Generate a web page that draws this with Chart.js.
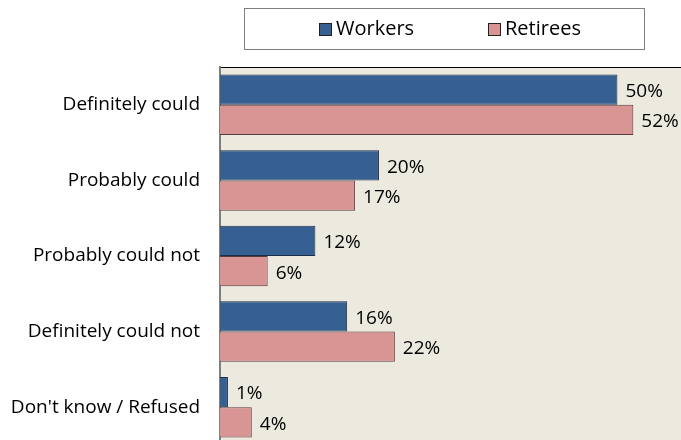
<!DOCTYPE html>
<html>
<head>
<meta charset="utf-8">
<script src="https://cdn.jsdelivr.net/npm/chart.js@4"></script>
<style>
    html, body { margin: 0; padding: 0; background: #fff; overflow: hidden; }
    canvas { display: block; }
</style>
</head>
<body>
<canvas id="graf" width="681" height="445"></canvas>
<script>
const kategorier = ['Definitely could', 'Probably could', 'Probably could not', 'Definitely could not', "Don't know / Refused"];
const arbeidere = [50, 20, 12, 16, 1];
const pensjonister = [52, 17, 6, 22, 4];
const serieNavn = ['Workers', 'Retirees'];

const skrift = '"Open Sans", Lato, sans-serif';

// Bakgrunn og ramme for plottet
const bakgrunnPlugin = {
    id: 'bakgrunn',
    beforeDraw(chart) {
        const { ctx, chartArea: a } = chart;
        ctx.save();
        ctx.fillStyle = '#ECE9DF';
        ctx.fillRect(a.left, a.top, a.right - a.left, a.bottom - a.top);
        ctx.strokeStyle = '#000';
        ctx.lineWidth = 1;
        ctx.beginPath();
        ctx.moveTo(a.left, a.top + 0.5);
        ctx.lineTo(a.right, a.top + 0.5);
        ctx.stroke();
        ctx.restore();
    }
};

// Verdier ved enden av stolpene
const verdiPlugin = {
    id: 'verdier',
    afterDatasetsDraw(chart) {
        const { ctx } = chart;
        ctx.save();
        ctx.font = '19px ' + skrift;
        ctx.fillStyle = '#000';
        ctx.textAlign = 'left';
        ctx.textBaseline = 'middle';
        chart.data.datasets.forEach((ds, i) => {
            chart.getDatasetMeta(i).data.forEach((bar, j) => {
                ctx.fillText(ds.data[j] + '%', bar.x + 8, bar.y + 2);
            });
        });
        ctx.restore();
    }
};

// Egen tegnforklaring med ramme
const forklaringPlugin = {
    id: 'forklaring',
    afterDraw(chart) {
        const { ctx } = chart;
        ctx.save();
        ctx.strokeStyle = '#7f7f7f';
        ctx.lineWidth = 1;
        ctx.strokeRect(244.5, 8.5, 400, 41);
        const posX = [319, 488];
        ctx.font = '20px ' + skrift;
        ctx.textBaseline = 'middle';
        chart.data.datasets.forEach((ds, i) => {
            ctx.fillStyle = ds.backgroundColor;
            ctx.fillRect(posX[i], 23, 12, 12);
            ctx.strokeStyle = '#222';
            ctx.strokeRect(posX[i] + 0.5, 23.5, 12, 12);
            ctx.fillStyle = '#000';
            ctx.fillText(ds.label, posX[i] + 17, 29);
        });
        ctx.restore();
    }
};

new Chart(document.getElementById('graf'), {
    type: 'bar',
    data: {
        labels: kategorier,
        datasets: [{
            label: serieNavn[0],
            data: arbeidere,
            backgroundColor: '#376092',
            borderColor: '#1c2f4a',
            borderWidth: 1,
            categoryPercentage: 0.8,
            barPercentage: 1.0
        }, {
            label: serieNavn[1],
            data: pensjonister,
            backgroundColor: '#D99594',
            borderColor: '#5a3a3a',
            borderWidth: 1,
            categoryPercentage: 0.8,
            barPercentage: 1.0
        }]
    },
    options: {
        indexAxis: 'y',
        responsive: false,
        animation: false,
        layout: { padding: { top: 67, left: 0, right: 0, bottom: 0 } },
        plugins: {
            legend: { display: false },
            tooltip: { enabled: false }
        },
        scales: {
            x: { display: false, min: 0, max: 58 },
            y: {
                afterFit(scale) {
                    scale.width = 220;
                    scale.paddingTop = 0;
                    scale.paddingBottom = 0;
                },
                grid: { display: false, drawTicks: false },
                border: { display: true, color: '#808080', width: 2 },
                ticks: { color: '#000', padding: 20, font: { family: skrift, size: 19 } }
            }
        }
    },
    plugins: [bakgrunnPlugin, verdiPlugin, forklaringPlugin]
});
</script>
</body>
</html>
